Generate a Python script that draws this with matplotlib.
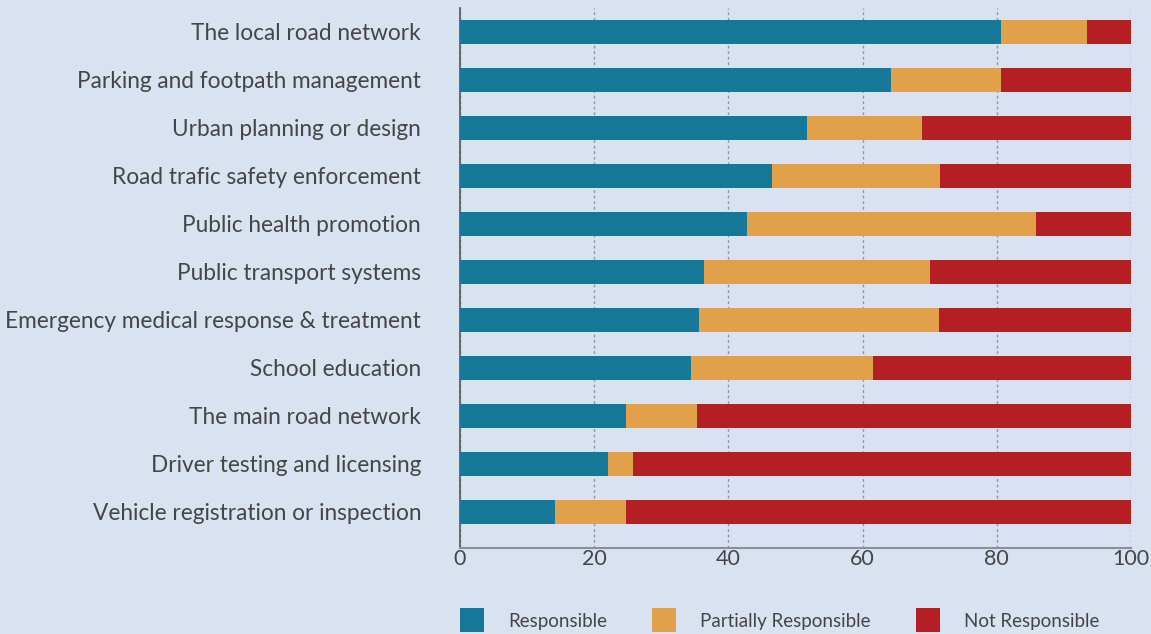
import matplotlib
matplotlib.use("Agg")
import matplotlib.pyplot as plt
from matplotlib.patches import Rectangle

# data (percent of respondents)
categories = [
    "The local road network",
    "Parking and footpath management",
    "Urban planning or design",
    "Road trafic safety enforcement",
    "Public health promotion",
    "Public transport systems",
    "Emergency medical response & treatment",
    "School education",
    "The main road network",
    "Driver testing and licensing",
    "Vehicle registration or inspection",
]
responsible = [80.6, 64.3, 51.7, 46.5, 42.8, 36.4, 35.6, 34.4, 24.7, 22.1, 14.2]
partially = [12.9, 16.3, 17.2, 25.1, 43.0, 33.6, 35.8, 27.1, 10.6, 3.7, 10.5]
not_resp = [6.5, 19.4, 31.1, 28.4, 14.2, 30.0, 28.6, 38.5, 64.7, 74.2, 75.3]
series_names = ["Responsible", "Partially Responsible", "Not Responsible"]
xticks = [0, 20, 40, 60, 80, 100]

BG = "#D9E2F1"
COLORS = ["#167898", "#E3A04A", "#B31F25"]
TXT = "#454545"

plt.rcParams["font.family"] = ["Lato", "DejaVu Sans"]

W, H = 1151, 634
fig = plt.figure(figsize=(W / 100, H / 100), dpi=100, facecolor=BG)
ax = fig.add_axes([460 / W, 1 - 548 / H, 671 / W, 540 / H], facecolor=BG)

ypos = list(range(len(categories)))
left = [0.0] * len(categories)
for vals, col, name in zip([responsible, partially, not_resp], COLORS, series_names):
    ax.barh(ypos, vals, left=left, height=0.5, color=col, label=name, zorder=3)
    left = [a + b for a, b in zip(left, vals)]

ax.set_xlim(0, 100)
ax.set_ylim(len(categories) - 0.25, -0.5)
ax.set_xticks(xticks)
ax.set_xticklabels([str(t) for t in xticks], fontsize=15.5, color=TXT)
ax.set_yticks(ypos)
ax.set_yticklabels(categories, fontsize=16.3, color=TXT)
ax.tick_params(axis="both", length=0)
ax.tick_params(axis="y", pad=28)
ax.tick_params(axis="x", pad=1)

ax.grid(axis="x", color="#8C96A3", linestyle=(0, (2, 2)), linewidth=1, zorder=1)
ax.grid(axis="y", visible=False)
for s in ("top", "right"):
    ax.spines[s].set_visible(False)
ax.spines["left"].set_color("#555555")
ax.spines["left"].set_linewidth(1.2)
ax.spines["bottom"].set_color("#8A8F99")
ax.spines["bottom"].set_linewidth(1.5)

# legend drawn by hand to match the uneven spacing of the original
leg_x = [460, 652, 916]
for x0, col, name in zip(leg_x, COLORS, series_names):
    fig.add_artist(Rectangle((x0 / W, 1 - 632 / H), 24 / W, 24 / H,
                             transform=fig.transFigure, facecolor=col,
                             edgecolor="none"))
    fig.text((x0 + 48) / W, 1 - 621 / H, name, fontsize=13.5, color=TXT,
             va="center", ha="left")

fig.savefig("out.png", dpi=100, facecolor=BG)
